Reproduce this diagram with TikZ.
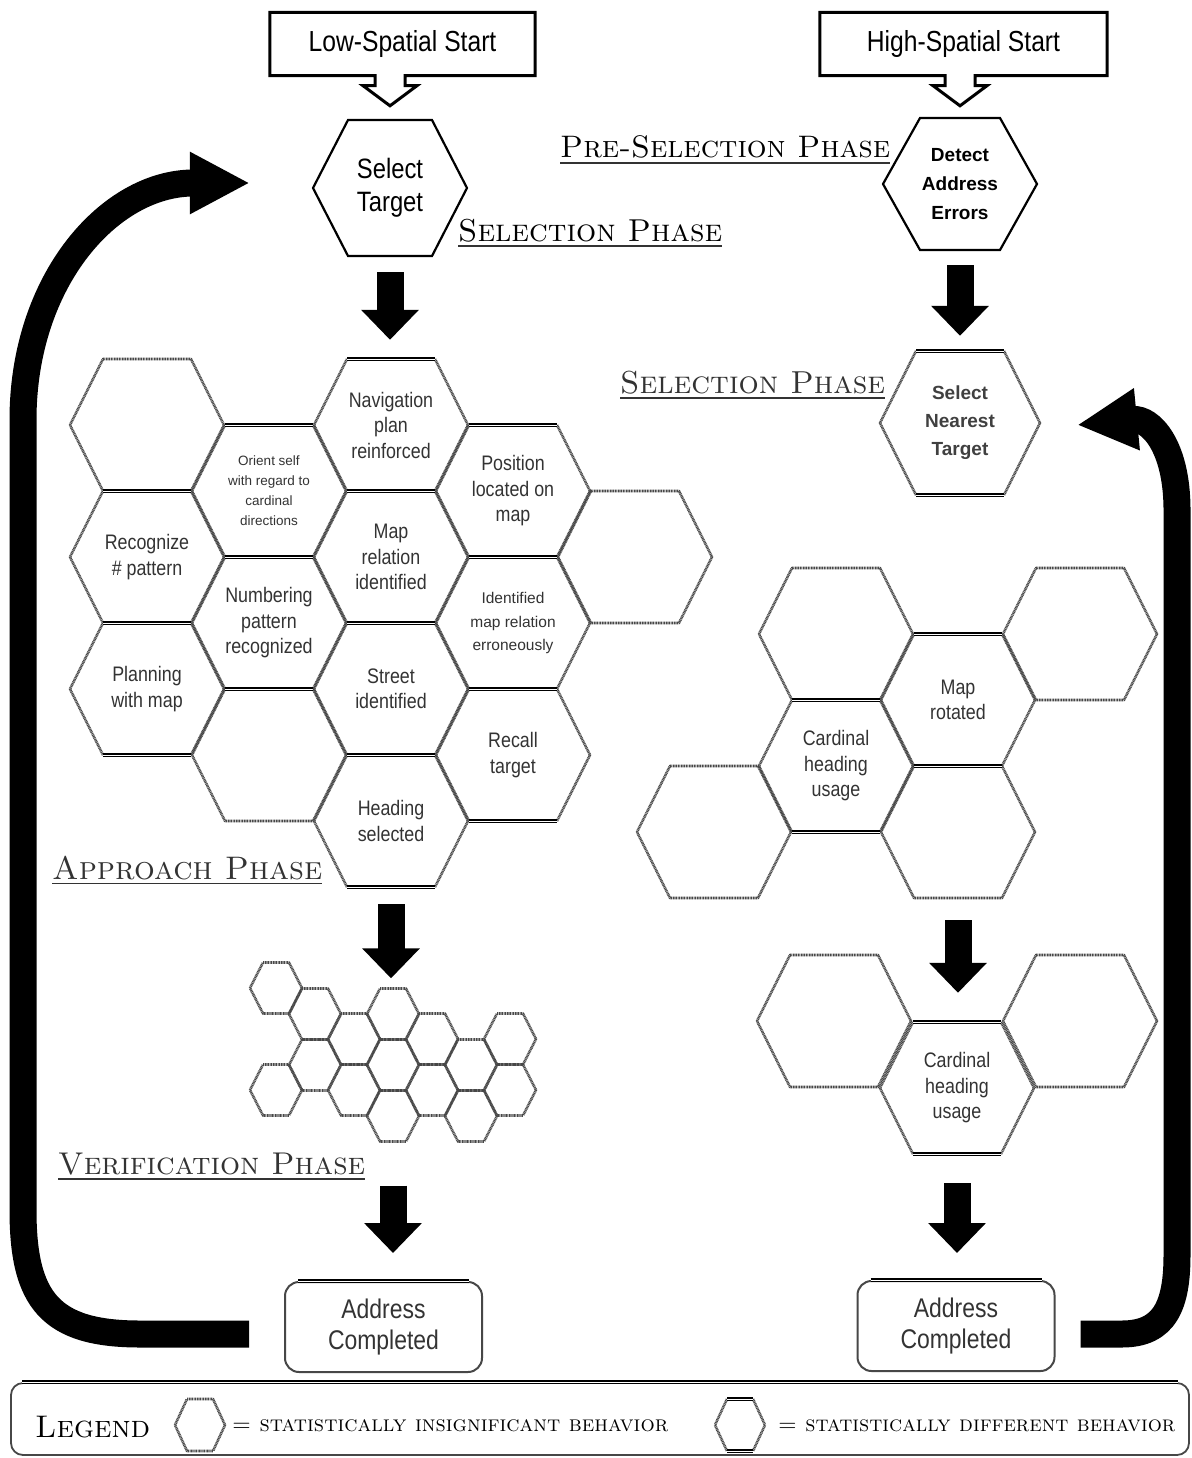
\documentclass[tikz,border=0pt]{standalone}
\usepackage{fontspec}
\usepackage{graphicx}
\usetikzlibrary{arrows.meta,calc}
\newfontfamily\narrowsans[FakeStretch=0.85]{Liberation Sans}
\newfontfamily\plainsans{Liberation Sans}
\newcommand\phaselbl[2]{\resizebox{#1}{!}{\scshape #2}}
\def\hW{77}\def\hA{44}\def\hH{66}
\newcommand\hexI[1]{\draw[insig] (#1.center) ++(-\hW,0) -- ++(\hW-\hA,-\hH) -- ++(2*\hA,0) -- ++(\hW-\hA,\hH) -- ++(\hA-\hW,\hH) -- ++(-2*\hA,0) -- cycle;}
\newcommand\hexS[1]{\draw[solidhex] (#1.center) ++(-\hW,0) -- ++(\hW-\hA,-\hH) -- ++(2*\hA,0) -- ++(\hW-\hA,\hH) -- ++(\hA-\hW,\hH) -- ++(-2*\hA,0) -- cycle;}
\newcommand\hexD[1]{%
  \draw[insig] (#1.center) ++(-\hA,-\hH) -- ++(\hA-\hW,\hH) -- ++(\hW-\hA,\hH);
  \draw[insig] (#1.center) ++(\hA,-\hH) -- ++(\hW-\hA,\hH) -- ++(\hA-\hW,\hH);
  \draw[dblO] (#1.center) ++(-\hA,-\hH) -- ++(2*\hA,0);
  \draw[dblI] (#1.center) ++(-\hA,-\hH) -- ++(2*\hA,0);
  \draw[dblO] (#1.center) ++(-\hA,\hH) -- ++(2*\hA,0);
  \draw[dblI] (#1.center) ++(-\hA,\hH) -- ++(2*\hA,0);}
\begin{document}
\begin{tikzpicture}[x=1pt,y=-1pt,
  insig/.style={draw=black!72, line width=2.6pt, dash pattern=on 1pt off 0.6pt, line join=round},
  dblO/.style={draw=black, line width=3.4pt},
  dblI/.style={draw=white, line width=1pt},
  solidhex/.style={draw=black, line width=2.2pt, line join=miter},
  htxt/.style={align=center, inner sep=0pt, text=black!80, font=\narrowsans\fontsize{21}{25.5}\selectfont, minimum width=154pt, minimum height=132pt},
  smtxt/.style={htxt, font=\plainsans\fontsize{13.5}{20}\selectfont},
  mdtxt/.style={htxt, font=\plainsans\fontsize{15.5}{23.5}\selectfont},
  snode/.style={inner sep=0pt, minimum width=52pt, minimum height=51pt},
  blk/.style={draw=black, line width=27pt, -{Triangle[width=56pt,length=30pt]}},
  loopar/.style={draw=black, line width=27pt, -{Triangle[width=58pt,length=60pt]}},
  startbox/.style={inner sep=0pt, minimum height=63pt, font=\narrowsans\fontsize{29}{34}\selectfont},
  boxline/.style={draw=black, line width=3pt, line join=miter},
  phase/.style={inner sep=0pt, anchor=base west},
  uline/.style={draw=black!80, line width=1.6pt},
  addbox/.style={draw=black!72, line width=2pt, rounded corners=14pt, minimum width=197pt, minimum height=90pt, align=center, inner sep=0pt, font=\narrowsans\fontsize{27}{31}\selectfont, text=black!80},
]
\fill[white] (0,0) rectangle (1191,1458);
\useasboundingbox (0,0) rectangle (1191,1458);

% ---------- start boxes ----------
\node[startbox, minimum width=265pt] (lowS) at (402.5,44) {Low-Spatial Start};
\node[startbox, minimum width=287pt] (hiS) at (963.5,44) {High-Spatial Start};

% ---------- top hexagons ----------
\def\hW{77}\def\hA{42}\def\hH{68}
\node[htxt, minimum height=136pt, font=\narrowsans\fontsize{28}{33}\selectfont, text=black] (selT) at (390,188) {Select\\Target};
\hexS{selT}
\def\hW{77}\def\hA{40}\def\hH{66}
\node[htxt, font=\plainsans\bfseries\fontsize{19}{29}\selectfont, text=black] (det) at (960,184) {Detect\\Address\\Errors};
\hexS{det}
\def\hW{80}\def\hA{44}\def\hH{72}
\node[htxt, minimum width=160pt, minimum height=144pt, font=\plainsans\bfseries\fontsize{19}{28}\selectfont, text=black!75] (selN) at (960,423) {Select\\Nearest\\Target};
\hexD{selN}

\coordinate (tipL) at ([yshift=14pt]selT.north);
\coordinate (tipH) at ([yshift=12pt]det.north);
\draw[boxline] (lowS.south west) -- (lowS.north west) -- (lowS.north east) -- (lowS.south east)
  -- ($(lowS.south -| tipL)+(15,0)$) -- ++(0,10) -- ++(12,0) -- (tipL)
  -- ($(lowS.south -| tipL)+(-27,10)$) -- ++(12,0) -- ++(0,-10) -- cycle;
\draw[boxline] (hiS.south west) -- (hiS.north west) -- (hiS.north east) -- (hiS.south east)
  -- ($(hiS.south -| tipH)+(15,0)$) -- ++(0,10) -- ++(12,0) -- (tipH)
  -- ($(hiS.south -| tipH)+(-27,10)$) -- ++(12,0) -- ++(0,-10) -- cycle;

% ---------- phase labels ----------
\node[phase] (pps) at (560,158) {\phaselbl{330pt}{Pre-Selection Phase}};
\draw[uline] ([yshift=-4pt]pps.south west) -- ([yshift=-4pt]pps.south east);
\node[phase] (psl) at (458,241) {\phaselbl{264pt}{Selection Phase}};
\draw[uline] ([yshift=-4pt]psl.south west) -- ([yshift=-4pt]psl.south east);
\node[phase, text=black!80] (psr) at (620,393) {\phaselbl{265pt}{Selection Phase}};
\draw[uline] ([yshift=-4pt]psr.south west) -- ([yshift=-4pt]psr.south east);
\node[phase, text=black!80] (pap) at (52,879) {\phaselbl{270pt}{Approach Phase}};
\draw[uline] ([yshift=-4pt]pap.south west) -- ([yshift=-4pt]pap.south east);
\node[phase, text=black!80] (pvf) at (58,1174) {\phaselbl{307pt}{Verification Phase}};
\draw[uline] ([yshift=-4pt]pvf.south west) -- ([yshift=-4pt]pvf.south east);

% ---------- left honeycomb ----------
\def\hW{77}\def\hA{44}\def\hH{66}
\node[htxt] (lA1) at (147,425) {};
\node[htxt] (lA2) at (147,557) {Recognize\\\# pattern};
\node[htxt] (lA3) at (147,689) {Planning\\with map};
\node[smtxt] (lB1) at (269,491) {Orient self\\with regard to\\cardinal\\directions};
\node[htxt] (lB2) at (269,623) {Numbering\\pattern\\recognized};
\node[htxt] (lB3) at (269,755) {};
\node[htxt] (lC1) at (391,425) {Navigation\\plan\\reinforced};
\node[htxt] (lC2) at (391,557) {Map\\relation\\identified};
\node[htxt] (lC3) at (391,689) {Street\\identified};
\node[htxt] (lC4) at (391,821) {Heading\\selected};
\node[htxt] (lD1) at (513,491) {Position\\located on\\map};
\node[mdtxt] (lD2) at (513,623) {Identified\\map relation\\erroneously};
\node[htxt] (lD3) at (513,755) {Recall\\target};
\node[htxt] (lE1) at (635,557) {};
\hexI{lA1}\hexI{lB3}\hexI{lE1}
\hexD{lA2}\hexD{lA3}\hexD{lB1}\hexD{lB2}\hexD{lC1}\hexD{lC2}\hexD{lC3}\hexD{lC4}\hexD{lD1}\hexD{lD2}\hexD{lD3}

% ---------- right clusters ----------
\node[htxt] (r1) at (836,634) {};
\node[htxt] (r2) at (958,700) {Map\\rotated};
\node[htxt] (r3) at (1080,634) {};
\node[htxt] (r4) at (836,766) {Cardinal\\heading\\usage};
\node[htxt] (r5) at (714,832) {};
\node[htxt] (r6) at (958,832) {};
\hexI{r1}\hexI{r3}\hexI{r5}\hexI{r6}
\hexD{r2}\hexD{r4}
\node[htxt] (q1) at (834,1021) {};
\node[htxt] (q2) at (957,1088) {Cardinal\\heading\\usage};
\node[htxt] (q3) at (1080,1021) {};
\hexI{q1}\hexI{q3}
\hexD{q2}

% ---------- small verification cluster ----------
\def\hW{26}\def\hA{13}\def\hH{25.5}
\foreach \c/\r in {0/0,0/2,1/0,1/1,2/1,2/2,3/0,3/1,3/2,4/1,4/2,5/1,5/2,6/1,6/2}{
  \pgfmathsetmacro\sx{276+39*\c}
  \pgfmathsetmacro\sy{988+51*\r+26*mod(\c,2)}
  \node[snode] (s\c\r) at (\sx,\sy) {};
  \hexI{s\c\r}
}

% ---------- address completed boxes ----------
\node[addbox] (addL) at (383.5,1327) {Address\\Completed};
\draw[dblO] ([xshift=14pt]addL.north west) -- ([xshift=-14pt]addL.north east);
\draw[dblI] ([xshift=14pt]addL.north west) -- ([xshift=-14pt]addL.north east);
\node[addbox] (addR) at (956,1326) {Address\\Completed};
\draw[dblO] ([xshift=14pt]addR.north west) -- ([xshift=-14pt]addR.north east);
\draw[dblI] ([xshift=14pt]addR.north west) -- ([xshift=-14pt]addR.north east);

% ---------- block arrows ----------
\draw[blk] ([yshift=-16pt]selT.south) -- ([yshift=19pt]selT.south |- lC1.north);
\draw[blk] ([yshift=-15pt]det.south) -- ([yshift=15pt]det.south |- selN.north);
\draw[blk] ([yshift=-17pt]lC4.south) -- ([yshift=10pt]lC4.south |- s30.north);
\draw[blk] ([yshift=-22pt]r6.south) -- ([yshift=29pt]r6.south |- q2.north);
\draw[blk] ([yshift=-29pt]q2.south) -- ([yshift=27pt]q2.south |- addR.north);
\draw[blk] ([yshift=-44pt]s32.south) -- ([yshift=28pt]s32.south |- addL.north);

% ---------- loop arrows ----------
\draw[loopar] ([xshift=-35pt,yshift=-7pt]addL.west) -- (140,1334)
  .. controls (50,1334) and (23,1300) .. (23,1210) -- (23,420)
  .. controls (23,280) and (110,183) .. ([xshift=-63pt,yshift=5pt]selT.west);
\draw[loopar] ([xshift=25pt,yshift=-8pt]addR.east) -- (1122,1334)
  .. controls (1165,1334) and (1177,1305) .. (1177,1255) -- (1177,510)
  .. controls (1177,445) and (1150,418) .. ([xshift=37pt,yshift=-2pt]selN.east);

% ---------- legend ----------
\node[draw=black!72, line width=1.8pt, rounded corners=12pt, minimum width=1178pt, minimum height=72pt, inner sep=0pt] (leg) at (600,1419) {};
\draw[dblO] ([xshift=12pt]leg.north west) -- ([xshift=-12pt]leg.north east);
\draw[dblI] ([xshift=12pt]leg.north west) -- ([xshift=-12pt]leg.north east);
\node[phase] (legT) at (35,1437) {\phaselbl{115pt}{Legend}};
\def\hW{25}\def\hA{13}\def\hH{26}
\node[inner sep=0pt, minimum width=50pt, minimum height=52pt] (lgI) at (200,1425) {};
\hexI{lgI}
\node[phase] (lgIt) at (232,1431) {\phaselbl{436pt}{= statistically insignificant behavior}};
\node[inner sep=0pt, minimum width=50pt, minimum height=52pt] (lgD) at (740,1425) {};
\hexD{lgD}
\node[phase] (lgDt) at (778,1431) {\phaselbl{397pt}{= statistically different behavior}};
\end{tikzpicture}
\end{document}
